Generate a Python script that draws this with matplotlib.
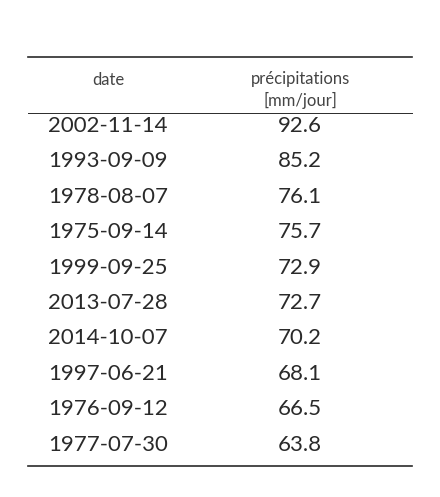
import matplotlib.pyplot as plt

dates = ['2002-11-14', '1993-09-09', '1978-08-07', '1975-09-14', '1999-09-25',
         '2013-07-28', '2014-10-07', '1997-06-21', '1976-09-12', '1977-07-30']
precip = [92.6, 85.2, 76.1, 75.7, 72.9, 72.7, 70.2, 68.1, 66.5, 63.8]
headers = ['date', 'précipitations\n[mm/jour]']

W, H = 440, 497
fig = plt.figure(figsize=(W / 100, H / 100), dpi=100)
ax = fig.add_axes([0, 0, 1, 1])
ax.set_xlim(0, W)
ax.set_ylim(H, 0)
ax.axis('off')

col = '#2a2a2a'
font = 'Lato'
x_date, x_val = 108, 300

# rules
ax.plot([28, 412], [57, 57], color=col, lw=1.2)
ax.plot([28, 412], [113, 113], color=col, lw=0.7)
ax.plot([28, 412], [466, 466], color=col, lw=1.2)

# header
ax.text(x_date, 80, headers[0], ha='center', va='center', fontsize=12,
        color='#444444', family=font)
ax.text(x_val, 90, headers[1], ha='center', va='center', fontsize=12,
        color='#444444', family=font, linespacing=1.4)

# rows
y0, dy = 126, 35.4
for i, (d, p) in enumerate(zip(dates, precip)):
    y = y0 + i * dy
    ax.text(x_date, y, d, ha='center', va='center', fontsize=16,
            color=col, family=font)
    ax.text(x_val, y, f'{p:.1f}', ha='center', va='center', fontsize=16,
            color=col, family=font)

fig.savefig('out.png', dpi=100)
